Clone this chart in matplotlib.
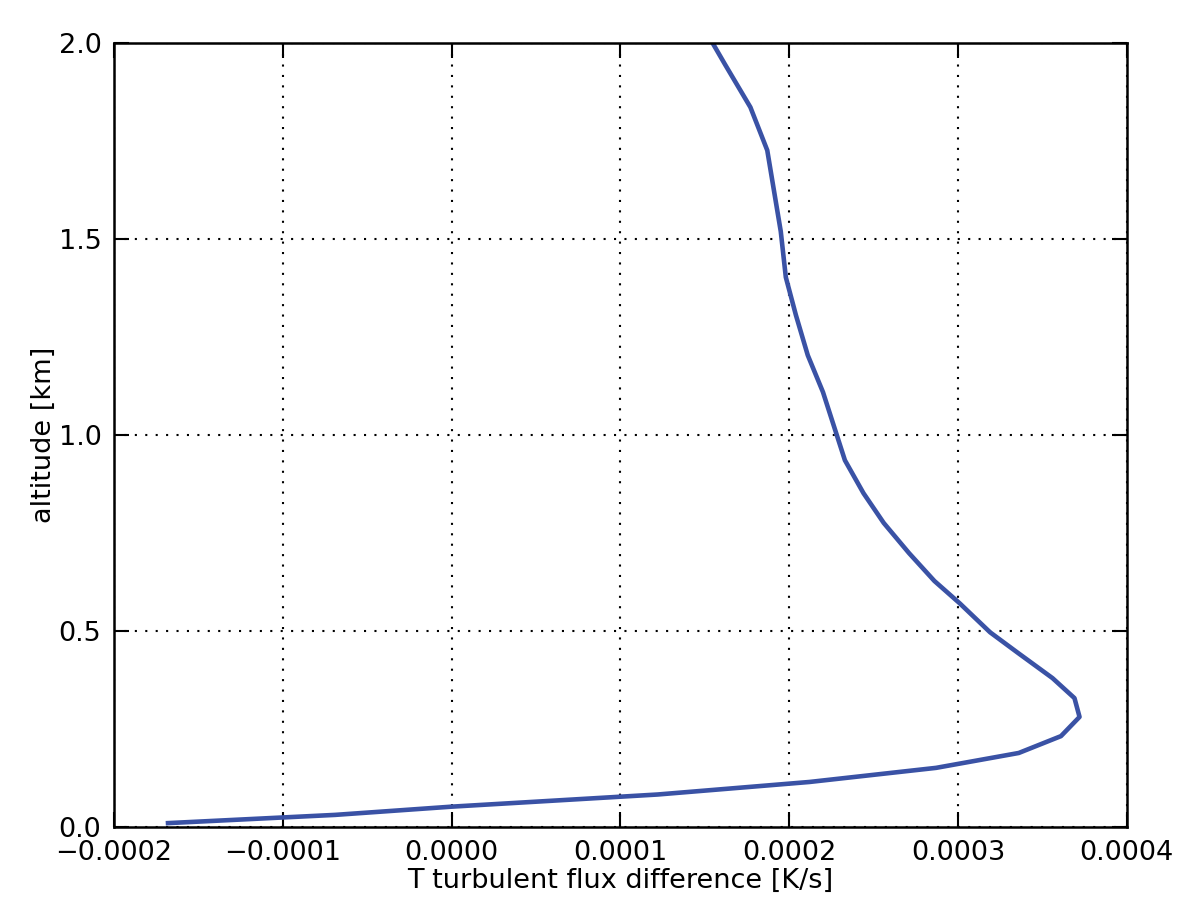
import matplotlib
matplotlib.use('Agg')
import matplotlib.pyplot as plt

# flux difference (K/s) vs altitude (km)
flux = [-1.68e-4, -0.69e-4, 0.0, 1.22e-4, 2.12e-4, 2.87e-4, 3.36e-4, 3.61e-4,
        3.72e-4, 3.69e-4, 3.56e-4, 3.35e-4, 3.19e-4, 3.01e-4, 2.86e-4,
        2.71e-4, 2.56e-4, 2.44e-4, 2.33e-4, 2.20e-4, 2.11e-4, 2.04e-4,
        1.98e-4, 1.95e-4, 1.87e-4, 1.77e-4, 1.62e-4, 1.48e-4]
alt = [0.010, 0.031, 0.052, 0.083, 0.115, 0.151, 0.189, 0.232,
       0.281, 0.329, 0.380, 0.446, 0.497, 0.571, 0.628,
       0.699, 0.776, 0.852, 0.936, 1.110, 1.204, 1.306,
       1.403, 1.520, 1.727, 1.837, 1.946, 2.05]

xticks = [-0.0002, -0.0001, 0.0, 0.0001, 0.0002, 0.0003, 0.0004]
xticklabels = ['\u22120.0002', '\u22120.0001', '0.0000', '0.0001',
               '0.0002', '0.0003', '0.0004']
yticks = [0.0, 0.5, 1.0, 1.5, 2.0]
yticklabels = ['0.0', '0.5', '1.0', '1.5', '2.0']

fig = plt.figure(figsize=(8, 922 / 150), dpi=150)
ax = fig.add_axes([0.095, 0.103, 0.844, 0.850])
ax.plot(flux, alt, color='#3a52a5', lw=2.2)

ax.set_xlim(-0.0002, 0.0004)
ax.set_ylim(0, 2.0)
ax.set_xticks(xticks)
ax.set_xticklabels(xticklabels)
ax.set_yticks(yticks)
ax.set_yticklabels(yticklabels)
ax.tick_params(direction='in', length=7, width=1, labelsize=13,
               top=True, right=True, pad=6)
ax.grid(True, color='black', linestyle=(0, (1, 4)), linewidth=1.0)
for s in ax.spines.values():
    s.set_linewidth(1.2)

ax.set_xlabel('T turbulent flux difference [K/s]', fontsize=13, labelpad=1)
ax.set_ylabel('altitude [km]', fontsize=13, labelpad=1)

fig.savefig('out.png', dpi=150)
